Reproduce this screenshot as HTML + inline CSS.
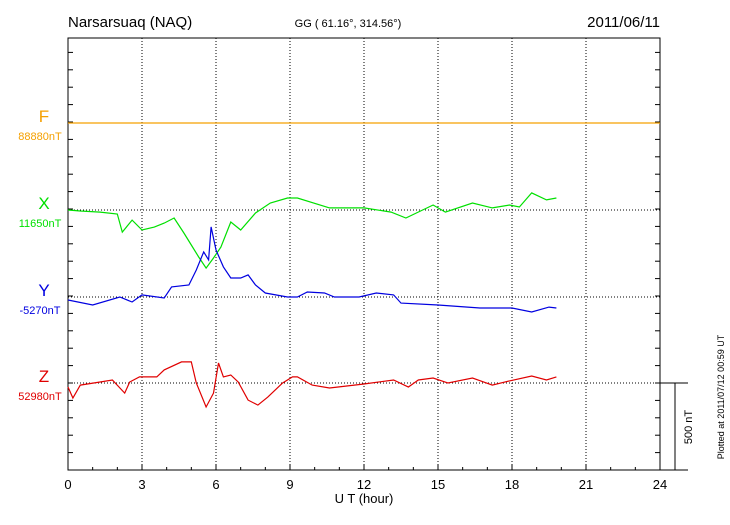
<!DOCTYPE html>
<html><head><meta charset="utf-8"><style>
body{margin:0;background:#fff}
svg text{font-family:"Liberation Sans",sans-serif}
</style></head><body>
<svg id="chart" width="730" height="520" xmlns="http://www.w3.org/2000/svg">
<text x="68" y="27" font-size="15">Narsarsuaq (NAQ)</text>
<text x="348" y="27" font-size="11" text-anchor="middle">GG ( 61.16°, 314.56°)</text>
<text x="660" y="27" font-size="15" text-anchor="end">2011/06/11</text>
<g id="grid"></g>
<rect x="68" y="38" width="592" height="432" fill="none" stroke="#000"/>
<g id="ticks"></g>
<g id="series"></g>
<text x="364" y="503" font-size="13" text-anchor="middle">U T (hour)</text>
<line x1="675" y1="383" x2="675" y2="470" stroke="#000"/>
<line x1="660" y1="383" x2="688" y2="383" stroke="#000"/>
<line x1="660" y1="470" x2="688" y2="470" stroke="#000"/>
<text transform="translate(692,427) rotate(-90)" font-size="11" text-anchor="middle">500 nT</text>
<text transform="translate(724,397) rotate(-90)" font-size="9" text-anchor="middle">Plotted at 2011/07/12 00:59 UT</text>
</svg>
<script>
const NS="http://www.w3.org/2000/svg";
const xTicks=[0,3,6,9,12,15,18,21,24];
const components=["F","X","Y","Z"];
const baseLabels=["88880nT","11650nT","-5270nT","52980nT"];
const colors=["#f5a000","#00e000","#0000e0","#e00000"];
const baselinesPx=[123,210,297,383];
const fHours=[0,24];
const fValues=[0,0];
const xHours=[0,0.5,1.3,2.0,2.2,2.6,3.0,3.5,3.9,4.3,4.7,5.0,5.3,5.6,5.9,6.2,6.6,7.0,7.6,8.2,8.9,9.3,10.6,12.0,13.1,13.7,14.8,15.3,16.4,17.2,17.9,18.3,18.8,19.4,19.8];
const xValues=[0,-6,-12,-23,-127,-58,-115,-98,-75,-46,-132,-201,-270,-334,-276,-213,-69,-115,-17,40,69,69,12,12,-12,-46,29,-12,40,12,29,17,98,58,69];
const yHours=[0,1.0,2.1,2.6,3.0,3.9,4.2,4.9,5.2,5.5,5.7,5.8,6.0,6.3,6.6,7.0,7.3,7.6,8.0,8.9,9.3,9.7,10.4,10.8,11.8,12.5,13.2,13.5,15.0,16.7,18.0,18.8,19.5,19.8];
const yValues=[-17,-46,0,-29,12,-6,58,69,155,259,213,403,270,173,109,109,127,69,23,0,0,29,23,0,0,23,12,-35,-46,-63,-63,-86,-58,-63];
const zHours=[0,0.2,0.5,1.3,1.8,2.3,2.5,2.9,3.6,3.9,4.6,5.0,5.2,5.6,5.9,6.1,6.3,6.6,6.9,7.3,7.7,8.1,8.7,9.1,9.3,9.9,10.6,12.0,13.2,13.8,14.2,14.8,15.4,16.4,17.2,17.9,18.8,19.4,19.8];
const zValues=[-23,-86,-12,6,17,-58,6,35,35,75,121,121,0,-138,-58,115,35,46,6,-98,-127,-81,0,35,35,-12,-29,-6,17,-23,17,29,0,29,-12,12,40,17,35];
const X0=68,X1=660,T=38,B=470,pxPerNT=17.4/100;
const xs=h=>X0+(X1-X0)*h/24;
const ys=(i,v)=>baselinesPx[i]-v*pxPerNT;
const grid=document.getElementById('grid'),ticks=document.getElementById('ticks'),ser=document.getElementById('series');
function mk(tag,at,parent){const e=document.createElementNS(NS,tag);for(const k in at)e.setAttribute(k,at[k]);parent.appendChild(e);return e;}
xTicks.forEach((h,i)=>{
  if(h>0&&h<24){const g=mk('line',{x1:xs(h),y1:T,x2:xs(h),y2:B,stroke:'#000','stroke-dasharray':'1,2'},grid);
  
  }
  const t=mk('text',{x:xs(h),y:489,'font-size':13,'text-anchor':'middle'},ticks);t.textContent=h;
  
  
  mk('line',{x1:xs(h),y1:B,x2:xs(h),y2:B-6,stroke:'#000'},ticks);
});
for(let h=1;h<24;h++){mk('line',{x1:xs(h),y1:B,x2:xs(h),y2:B-3,stroke:'#000'},ticks);}
for(let y=B;y>T;y-=17.4){mk('line',{x1:X0,y1:y,x2:X0+5,y2:y,stroke:'#000'},ticks);mk('line',{x1:X1,y1:y,x2:X1-5,y2:y,stroke:'#000'},ticks);}
components.forEach((c,i)=>{
  const b=baselinesPx[i];
  const gl=mk('line',{x1:X0,y1:b,x2:X1,y2:b,stroke:'#000','stroke-dasharray':'1,2'},grid);
  
  
  const l=mk('text',{x:44,y:b-1,'font-size':17,'text-anchor':'middle',fill:colors[i]},ticks);l.textContent=c;
  
  
  const v=mk('text',{x:40,y:b+17,'font-size':11,'text-anchor':'middle',fill:colors[i]},ticks);v.textContent=baseLabels[i];
  
  
});
const sets=[[fHours,fValues],[xHours,xValues],[yHours,yValues],[zHours,zValues]];
sets.forEach(([hs,vs],i)=>{
  const p=mk('polyline',{points:hs.map((h,k)=>xs(h).toFixed(1)+','+ys(i,vs[k]).toFixed(1)).join(' '),fill:'none',stroke:colors[i],'stroke-width':1.2},ser);
  
  
});
</script>
</body></html>
